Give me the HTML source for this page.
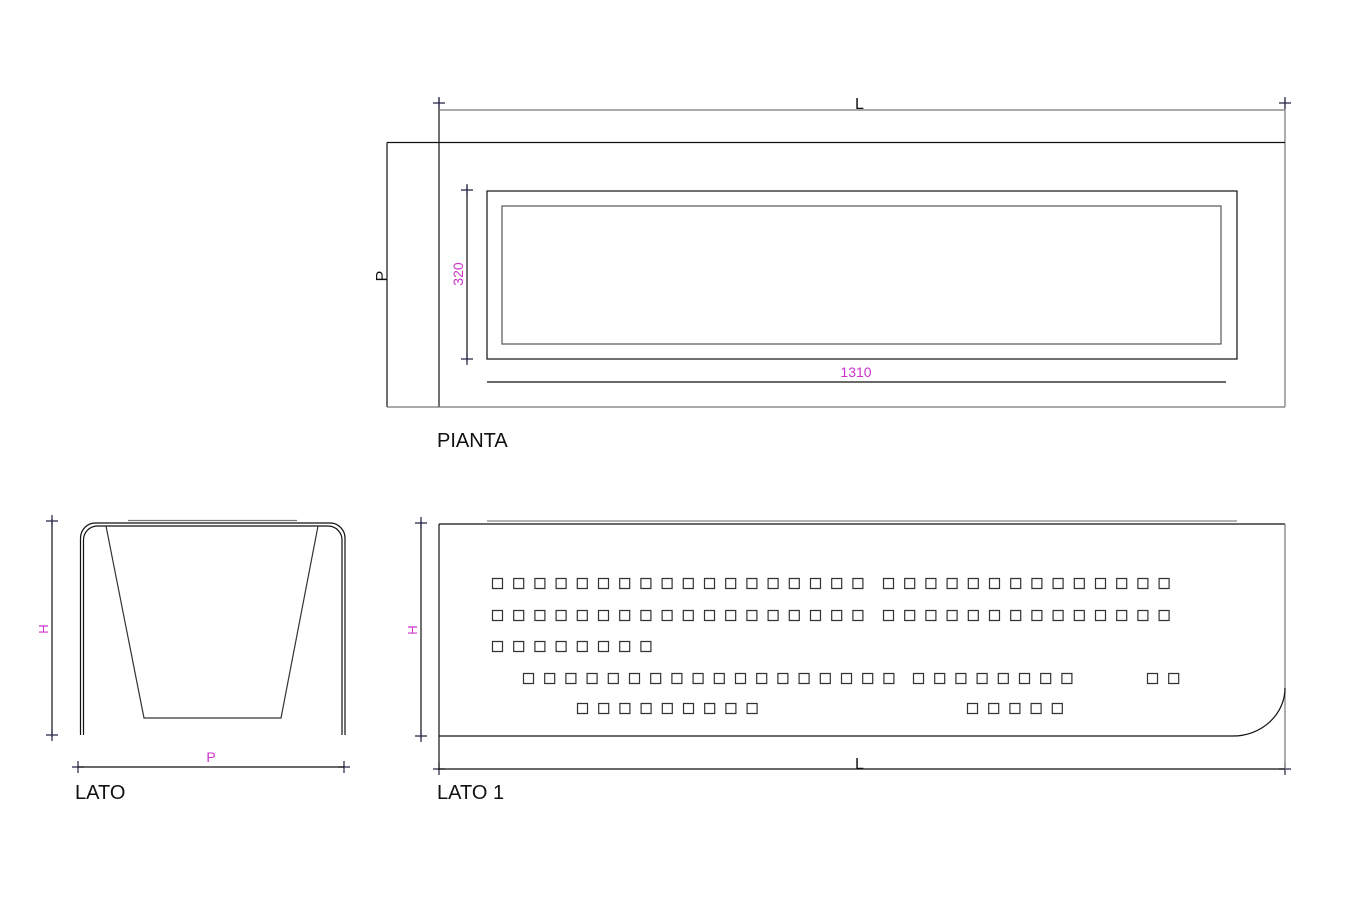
<!DOCTYPE html>
<html><head><meta charset="utf-8"><style>
html,body{margin:0;padding:0;background:#fff;}
svg{display:block;}
text{font-family:"Liberation Sans",sans-serif;}
</style></head><body>
<svg width="1356" height="900" viewBox="0 0 1356 900" xmlns="http://www.w3.org/2000/svg">
<defs>
<path id="g18" d="M0 0h10v10h-10zM21.2 0h10v10h-10zM42.4 0h10v10h-10zM63.6 0h10v10h-10zM84.8 0h10v10h-10zM106 0h10v10h-10zM127.2 0h10v10h-10zM148.4 0h10v10h-10zM169.6 0h10v10h-10zM190.8 0h10v10h-10zM212 0h10v10h-10zM233.2 0h10v10h-10zM254.4 0h10v10h-10zM275.6 0h10v10h-10zM296.8 0h10v10h-10zM318 0h10v10h-10zM339.2 0h10v10h-10zM360.4 0h10v10h-10z"/>
<path id="g14" d="M0 0h10v10h-10zM21.2 0h10v10h-10zM42.4 0h10v10h-10zM63.6 0h10v10h-10zM84.8 0h10v10h-10zM106 0h10v10h-10zM127.2 0h10v10h-10zM148.4 0h10v10h-10zM169.6 0h10v10h-10zM190.8 0h10v10h-10zM212 0h10v10h-10zM233.2 0h10v10h-10zM254.4 0h10v10h-10zM275.6 0h10v10h-10z"/>
<path id="g9" d="M0 0h10v10h-10zM21.2 0h10v10h-10zM42.4 0h10v10h-10zM63.6 0h10v10h-10zM84.8 0h10v10h-10zM106 0h10v10h-10zM127.2 0h10v10h-10zM148.4 0h10v10h-10zM169.6 0h10v10h-10z"/>
<path id="g8" d="M0 0h10v10h-10zM21.2 0h10v10h-10zM42.4 0h10v10h-10zM63.6 0h10v10h-10zM84.8 0h10v10h-10zM106 0h10v10h-10zM127.2 0h10v10h-10zM148.4 0h10v10h-10z"/>
<path id="g5" d="M0 0h10v10h-10zM21.2 0h10v10h-10zM42.4 0h10v10h-10zM63.6 0h10v10h-10zM84.8 0h10v10h-10z"/>
<path id="g2" d="M0 0h10v10h-10zM21.2 0h10v10h-10z"/>
</defs>
<g fill="none" stroke="#111" stroke-width="1.2">
<line x1="439" y1="98" x2="439" y2="407"/>
<line x1="1285" y1="98" x2="1285" y2="407" stroke="#777"/>
<line x1="439" y1="110" x2="1285" y2="110" stroke="#777"/>
<line x1="387" y1="142.5" x2="1285" y2="142.5"/>
<line x1="387" y1="142.5" x2="387" y2="407"/>
<line x1="387" y1="407" x2="1285" y2="407" stroke="#777"/>
<rect x="487" y="191" width="750" height="168"/>
<rect x="502" y="206" width="719" height="138" stroke="#555"/>
<line x1="467" y1="186" x2="467" y2="362"/>
<line x1="487" y1="382" x2="1226" y2="382"/>
<path d="M433 103h12M439 97v12M1279 103h12M1285 97v12M461 190h12M467 184v12M461 359h12M467 353v12" stroke="#224"/>
<line x1="421" y1="521" x2="421" y2="738"/>
<path d="M415 523h12M421 517v12M415 736h12M421 730v12M433 769h12M439 763v12M1279 769h12M1285 763v12" stroke="#224"/>
<line x1="439" y1="524" x2="439" y2="770"/>
<line x1="439" y1="524" x2="1285" y2="524"/>
<line x1="487" y1="521" x2="1237" y2="521" stroke="#888"/>
<line x1="1285" y1="524" x2="1285" y2="770" stroke="#777"/>
<path d="M439 736H1233A52 48 0 0 0 1285 688"/>
<line x1="439" y1="769" x2="1285" y2="769"/>
<line x1="52" y1="519" x2="52" y2="737"/>
<path d="M46 521h12M52 515v12M46 735h12M52 729v12M72 767h12M78 761v12M338 767h12M344 761v12" stroke="#224"/>
<line x1="78" y1="767" x2="344" y2="767"/>
<path d="M80.5 735V538A15 15 0 0 1 95.5 523H330A15 15 0 0 1 345 538V735"/>
<path d="M83.5 735V540A14 14 0 0 1 97.5 526H328A14 14 0 0 1 342 540V735"/>
<line x1="128" y1="520.5" x2="297" y2="520.5" stroke="#777"/>
<path d="M106 526L144 718H281L318 526" stroke="#333"/>
</g>
<g fill="none" stroke="#333" stroke-width="1.2">
<use href="#g18" x="492.5" y="578.5"/>
<use href="#g14" x="883.5" y="578.5"/>
<use href="#g18" x="492.5" y="610.5"/>
<use href="#g14" x="883.5" y="610.5"/>
<use href="#g8" x="492.5" y="641.5"/>
<use href="#g18" x="523.5" y="673.5"/>
<use href="#g8" x="913.5" y="673.5"/>
<use href="#g2" x="1147.5" y="673.5"/>
<use href="#g9" x="577.5" y="703.5"/>
<use href="#g5" x="967.5" y="703.5"/>
</g>
<text x="855" y="109" font-size="16" fill="#111">L</text>
<text x="855" y="769" font-size="16" fill="#111">L</text>
<text x="387" y="276" font-size="16" fill="#111" transform="rotate(-90 387 276)" text-anchor="middle">P</text>
<text x="463" y="274" font-size="14" fill="#c3c" transform="rotate(-90 463 274)" text-anchor="middle">320</text>
<text x="856" y="377" font-size="14" fill="#c3c" text-anchor="middle">1310</text>
<text x="48" y="629" font-size="13" fill="#c3c" transform="rotate(-90 48 629)" text-anchor="middle">H</text>
<text x="417" y="630" font-size="13" fill="#c3c" transform="rotate(-90 417 630)" text-anchor="middle">H</text>
<text x="211" y="762" font-size="14" fill="#c3c" text-anchor="middle">P</text>
<text x="437" y="447" font-size="20" fill="#111">PIANTA</text>
<text x="75" y="799" font-size="20" fill="#111">LATO</text>
<text x="437" y="799" font-size="20" fill="#111">LATO 1</text>
</svg>
</body></html>
